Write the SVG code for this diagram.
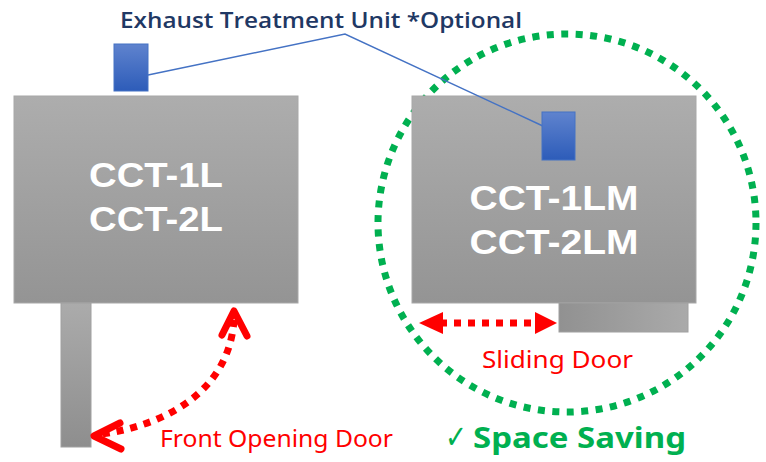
<svg xmlns="http://www.w3.org/2000/svg" width="766" height="462" viewBox="0 0 766 462">
<defs>
<linearGradient id="gBox" x1="0" y1="0" x2="0" y2="1"><stop offset="0" stop-color="#ADADAD"/><stop offset="1" stop-color="#949494"/></linearGradient>
<linearGradient id="gDoorV" x1="0" y1="0" x2="0" y2="1"><stop offset="0" stop-color="#ABABAB"/><stop offset="1" stop-color="#8E8E8E"/></linearGradient>
<linearGradient id="gDoorH" x1="0" y1="0" x2="1" y2="0"><stop offset="0" stop-color="#919191"/><stop offset="1" stop-color="#AAAAAA"/></linearGradient>
<linearGradient id="gBlue" x1="0" y1="0" x2="0" y2="1"><stop offset="0" stop-color="#5F83CE"/><stop offset="1" stop-color="#2D5CB9"/></linearGradient>
</defs>
<style>
.box{fill:url(#gBox);stroke:#A8A8A8;stroke-width:1}
.unit{fill:url(#gBlue);stroke:#4472C4;stroke-width:1}
.cct{font-family:"Liberation Sans",Arial,sans-serif;font-weight:bold;font-size:35px;fill:#FFFFFF;text-anchor:middle}
.red{font-family:"Noto Sans","Liberation Sans",sans-serif;font-size:23px;fill:#FF0000}
.dot{fill:none;stroke:#FF0000;stroke-width:7;stroke-dasharray:7 7}
.chev{fill:none;stroke:#FF0000;stroke-width:7;stroke-linecap:round;stroke-linejoin:round}
</style>
<g id="space-circle">
<circle cx="567" cy="223" r="189" fill="none" stroke="#00B050" stroke-width="7" stroke-dasharray="7 7.5"/>
</g>
<g id="cct-1l">
<rect class="box" x="14" y="96" width="284" height="207"/>
<text class="cct" x="156" y="187" textLength="134" lengthAdjust="spacingAndGlyphs">CCT-1L</text>
<text class="cct" x="156" y="231" textLength="134" lengthAdjust="spacingAndGlyphs">CCT-2L</text>
</g>
<g id="front-door">
<rect x="61" y="303" width="30" height="144" fill="url(#gDoorV)" stroke="#A0A0A0" stroke-width="1"/>
</g>
<g id="cct-1lm">
<rect class="box" x="412" y="96" width="284" height="207"/>
<text class="cct" x="554" y="210" textLength="169" lengthAdjust="spacingAndGlyphs">CCT-1LM</text>
<text class="cct" x="554" y="254" textLength="169" lengthAdjust="spacingAndGlyphs">CCT-2LM</text>
</g>
<g id="sliding-door">
<rect x="559" y="303" width="129" height="29" fill="url(#gDoorH)" stroke="#A0A0A0" stroke-width="1"/>
</g>
<g id="connectors">
<polyline points="148,75 345,34 545,127" fill="none" stroke="#4472C4" stroke-width="1.5"/>
</g>
<g id="exhaust-left">
<rect class="unit" x="114" y="44" width="34" height="47"/>
</g>
<g id="exhaust-right">
<rect class="unit" x="542" y="112" width="33" height="48"/>
</g>
<g id="front-arrow">
<path class="dot" d="M234,320 C229,392 165,425 102,434"/>
<polyline class="chev" points="222,335 234,311 247,336"/>
<polyline class="chev" points="120,423 94,436 121,449"/>
</g>
<g id="sliding-arrow">
<line class="dot" x1="440" y1="323" x2="538" y2="323"/>
<polygon points="419,323 443,312 443,334" fill="#FF0000"/>
<polygon points="557,323 535,312 535,334" fill="#FF0000"/>
</g>
<g id="labels">
<text x="120" y="28" font-family="'Open Sans','Noto Sans',sans-serif" font-size="22" font-weight="600" fill="#1F3864" textLength="402" lengthAdjust="spacingAndGlyphs">Exhaust Treatment Unit *Optional</text>
<text class="red" x="160" y="447" textLength="233" lengthAdjust="spacingAndGlyphs">Front Opening Door</text>
<text class="red" x="482" y="368" font-size="25" textLength="151" lengthAdjust="spacingAndGlyphs">Sliding Door</text>
<text x="445" y="448" font-family="'DejaVu Sans',sans-serif" font-size="32" fill="#00B050" textLength="22" lengthAdjust="spacingAndGlyphs">✓</text>
<text x="473" y="448" font-family="'Noto Sans','Liberation Sans',sans-serif" font-size="28" font-weight="bold" fill="#00B050" textLength="213" lengthAdjust="spacingAndGlyphs">Space Saving</text>
</g>
</svg>
